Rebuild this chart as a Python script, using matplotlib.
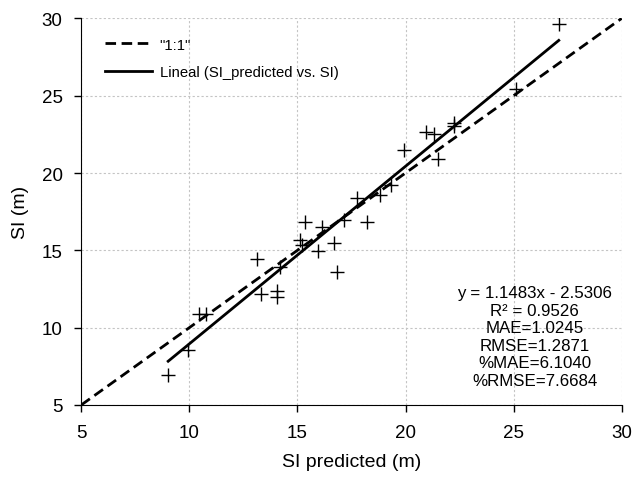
import numpy as np
import matplotlib as mpl
import matplotlib.pyplot as plt

mpl.rcParams["font.family"] = ["Liberation Sans", "DejaVu Sans"]

si_predicted = [9.02, 9.95, 10.46, 10.77, 13.15, 13.33, 14.05, 14.05, 14.2,
                15.1, 15.2, 15.36, 15.97, 16.13, 16.67, 16.85, 17.16, 17.75,
                18.22, 18.8, 19.35, 19.95, 20.94, 21.3, 21.48, 22.23, 22.25,
                25.09, 27.09]
si_observed = [6.94, 8.56, 10.89, 10.89, 14.44, 12.15, 12.35, 12.0, 13.9,
               15.67, 15.35, 16.86, 14.98, 16.5, 15.48, 13.62, 16.99, 18.39,
               16.86, 18.6, 19.23, 21.5, 22.68, 22.53, 20.91, 23.07, 23.24,
               25.44, 29.64]

slope, intercept = 1.1483, -2.5306
stats_lines = [
    "y = 1.1483x - 2.5306",
    "R² = 0.9526",
    "MAE=1.0245",
    "RMSE=1.2871",
    "%MAE=6.1040",
    "%RMSE=7.6684",
]

fig = plt.figure(figsize=(6.35, 4.85), dpi=100)
ax = fig.add_axes([0.128, 0.163, 0.851, 0.797])

ax.plot([5, 30], [5, 30], color="black", linestyle=(0, (3.8, 2)),
        linewidth=2, label='"1:1"', zorder=3)

x_fit = np.array([min(si_predicted), max(si_predicted)])
ax.plot(x_fit, slope * x_fit + intercept, color="black", linewidth=2,
        label="Lineal (SI_predicted vs. SI)", zorder=3)

ax.plot(si_predicted, si_observed, linestyle="none", marker="+",
        markersize=9.5, markeredgewidth=1, color="black", zorder=4)

ax.set_xlim(5, 30)
ax.set_ylim(5, 30)
ax.set_xticks(range(5, 31, 5))
ax.set_yticks(range(5, 31, 5))
ax.tick_params(labelsize=13.5, direction="out", length=5, width=1, pad=8.5)
ax.set_xlabel("SI predicted (m)", fontsize=14, labelpad=9)
ax.set_ylabel("SI (m)", fontsize=14, labelpad=9)

ax.grid(True, color="#c4c4c4", linestyle=(0, (2, 2)), linewidth=0.8)
ax.spines["top"].set_visible(False)
ax.spines["right"].set_visible(False)

ax.legend(loc="upper left", frameon=False, fontsize=10.7, handlelength=3.15,
          handletextpad=0.5, bbox_to_anchor=(0.02, 0.985), labelspacing=0.9)

ax.text(0.839, 0.177, "\n".join(stats_lines), transform=ax.transAxes,
        ha="center", va="center", fontsize=12.2, linespacing=1.22,
        multialignment="center")

fig.savefig("out.png", dpi=100)
plt.close(fig)
